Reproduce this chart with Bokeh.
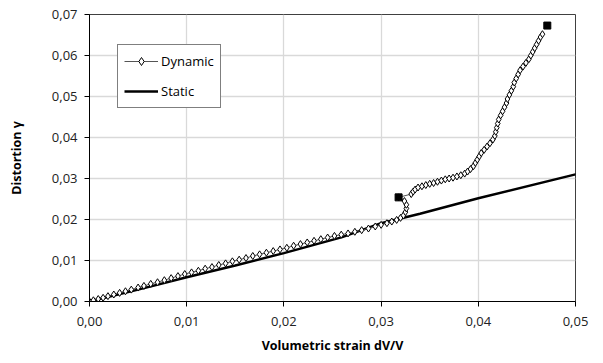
from bokeh.plotting import figure
from bokeh.models import Range1d, FixedTicker, CustomJSTickFormatter, Legend, LegendItem
from bokeh.embed import file_html
from bokeh.resources import INLINE

# Dynamic series (volumetric strain, distortion)
dyn_x = [0.0000, 0.0004, 0.0009, 0.0014, 0.0019, 0.0025, 0.0031, 0.0037, 0.0043, 0.0050,
         0.0056, 0.0063, 0.0070, 0.0077, 0.0084, 0.0091, 0.0098, 0.0105, 0.0112, 0.0119,
         0.0126, 0.0133, 0.0140, 0.0147, 0.0154, 0.0161, 0.0168, 0.0175, 0.0182, 0.0189,
         0.0196, 0.0203, 0.0210, 0.0217, 0.0224, 0.0231, 0.0238, 0.0245, 0.0252, 0.0259,
         0.0266, 0.0273, 0.0280, 0.0287, 0.0294, 0.0300, 0.0306, 0.0311, 0.0316, 0.0320,
         0.0323, 0.0325, 0.0326, 0.0326, 0.0324, 0.0318,
         0.0331, 0.0333, 0.0335, 0.0338, 0.0342, 0.0346, 0.0350, 0.0354, 0.0358, 0.0362,
         0.0366, 0.0370, 0.0374, 0.0378, 0.0382, 0.0386, 0.0389, 0.0392, 0.0395, 0.0397,
         0.0399, 0.0401, 0.0403, 0.0406, 0.0409, 0.0412, 0.0415, 0.0417, 0.0418, 0.0419,
         0.0420, 0.0421, 0.0423, 0.0425, 0.0427, 0.0429, 0.0430, 0.0432, 0.0434, 0.0436,
         0.0437, 0.0439, 0.0441, 0.0443, 0.0446, 0.0449, 0.0452, 0.0454, 0.0456, 0.0458,
         0.0460, 0.0462, 0.0464, 0.0466]
dyn_y = [0.0000, 0.0003, 0.0006, 0.0009, 0.0013, 0.0017, 0.0021, 0.0025, 0.0029, 0.0034,
         0.0038, 0.0043, 0.0047, 0.0052, 0.0057, 0.0062, 0.0067, 0.0071, 0.0075, 0.0080,
         0.0084, 0.0089, 0.0093, 0.0098, 0.0102, 0.0106, 0.0111, 0.0115, 0.0119, 0.0123,
         0.0127, 0.0131, 0.0136, 0.0140, 0.0144, 0.0148, 0.0152, 0.0156, 0.0160, 0.0163,
         0.0166, 0.0170, 0.0174, 0.0178, 0.0183, 0.0187, 0.0191, 0.0195, 0.0199, 0.0204,
         0.0210, 0.0218, 0.0227, 0.0236, 0.0245, 0.0254,
         0.0262, 0.0268, 0.0273, 0.0278, 0.0281, 0.0284, 0.0287, 0.0289, 0.0292, 0.0295,
         0.0298, 0.0300, 0.0302, 0.0305, 0.0308, 0.0312, 0.0317, 0.0323, 0.0330, 0.0338,
         0.0346, 0.0354, 0.0362, 0.0370, 0.0378, 0.0386, 0.0395, 0.0404, 0.0414, 0.0424,
         0.0434, 0.0444, 0.0454, 0.0464, 0.0474, 0.0484, 0.0494, 0.0504, 0.0514, 0.0524,
         0.0534, 0.0544, 0.0554, 0.0564, 0.0573, 0.0582, 0.0591, 0.0600, 0.0609, 0.0618,
         0.0627, 0.0636, 0.0645, 0.0652]

# Highlighted points (filled squares)
mark_x = [0.0318, 0.0471]
mark_y = [0.0254, 0.0673]

# Static series
sta_x = [0.000, 0.005, 0.010, 0.015, 0.020, 0.026, 0.030, 0.034, 0.040, 0.050, 0.055]
sta_y = [0.0000, 0.0029, 0.0059, 0.0088, 0.0118, 0.0157, 0.0191, 0.0214, 0.0252, 0.0310, 0.0338]

x_ticks = [0.00, 0.01, 0.02, 0.03, 0.04, 0.05]
y_ticks = [0.00, 0.01, 0.02, 0.03, 0.04, 0.05, 0.06, 0.07]

FONT = "Open Sans"

p = figure(width=603, height=363, output_backend="svg", toolbar_location=None,
           x_range=Range1d(0, 0.05), y_range=Range1d(0, 0.07))
p.min_border_left = 89
p.min_border_right = 28
p.min_border_top = 14
p.min_border_bottom = 62
p.background_fill_color = "white"
p.border_fill_color = "white"
p.outline_line_color = "#404040"
p.outline_line_width = 1

fmt = CustomJSTickFormatter(code="return tick.toFixed(2).replace('.', ',');")
for ax, ticks in ((p.xaxis[0], x_ticks), (p.yaxis[0], y_ticks)):
    ax.ticker = FixedTicker(ticks=ticks)
    ax.formatter = fmt
    ax.minor_tick_line_color = None
    ax.major_tick_in = 0
    ax.major_tick_out = 5
    ax.axis_line_color = "black"
    ax.axis_line_width = 1
    ax.major_tick_line_color = "black"
    ax.major_label_text_font = FONT
    ax.major_label_text_font_size = "13px"
    ax.major_label_text_color = "#222222"
    ax.axis_label_text_font = FONT
    ax.axis_label_text_font_size = "12.5px"
    ax.axis_label_text_font_style = "bold"
    ax.axis_label_text_color = "black"

p.xaxis.axis_label = "Volumetric strain dV/V"
p.yaxis.axis_label = "Distortion γ"
p.xaxis.major_label_standoff = 10
p.yaxis.major_label_standoff = 7
p.xaxis.axis_label_standoff = 8
p.yaxis.axis_label_standoff = 24

p.grid.grid_line_color = "#d9d9d9"
p.grid.grid_line_width = 1.3

r_static = p.line(sta_x, sta_y, line_color="black", line_width=2.5)
r_dline = p.line(dyn_x, dyn_y, line_color="#555555", line_width=1)
r_dpts = p.scatter(dyn_x, dyn_y, marker="diamond", size=7, fill_color="white",
                   line_color="black", line_width=1)
p.scatter(mark_x, mark_y, marker="square", size=7, fill_color="black", line_color="black")

legend = Legend(items=[LegendItem(label="Dynamic", renderers=[r_dline, r_dpts]),
                       LegendItem(label="Static", renderers=[r_static])],
                location=(28, 193))
legend.label_text_font = FONT
legend.label_text_font_size = "13px"
legend.label_text_color = "black"
legend.border_line_color = "black"
legend.border_line_width = 1
legend.background_fill_color = "white"
legend.background_fill_alpha = 1
legend.glyph_width = 34
legend.glyph_height = 20
legend.spacing = 10
legend.padding = 6
legend.label_standoff = 3
legend.margin = 0
p.add_layout(legend, "center")

open("out.html", "w").write(file_html(p, INLINE))
